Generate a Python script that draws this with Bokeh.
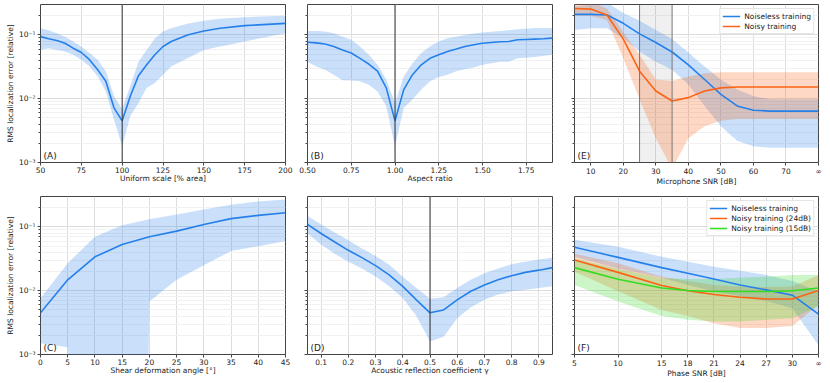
from bokeh.plotting import figure
from bokeh.models import (FixedTicker, CustomJSTickFormatter, NumeralTickFormatter,
                          Span, BoxAnnotation, Label, Range1d)
from bokeh.layouts import row, column
from bokeh.embed import file_html
from bokeh.resources import INLINE

FONT = "DejaVu Sans"
BLUE = "#2680eb"
ORANGE = "#fa6414"
GREEN = "#33dd22"

# ---------------- data ----------------
# (A) uniform scale
xA = [50, 55, 60, 65, 70, 75, 80, 85, 90, 95, 100, 105, 110, 115, 120, 125, 130, 140, 150, 160, 175, 200]
meanA = [0.094, 0.087, 0.082, 0.074, 0.062, 0.053, 0.041, 0.0285, 0.0188, 0.0072, 0.0045, 0.011,
         0.023, 0.034, 0.049, 0.066, 0.079, 0.100, 0.115, 0.127, 0.140, 0.152]
upA = [0.127, 0.118, 0.106, 0.094, 0.079, 0.065, 0.052, 0.041, 0.027, 0.011, 0.0069, 0.016,
       0.038, 0.058, 0.088, 0.113, 0.127, 0.150, 0.167, 0.180, 0.190, 0.200]
loA = [0.058, 0.062, 0.058, 0.055, 0.049, 0.041, 0.032, 0.0224, 0.013, 0.0047, 0.0018, 0.0054,
       0.0086, 0.0148, 0.0177, 0.0238, 0.032, 0.043, 0.058, 0.066, 0.079, 0.106]

# (B) aspect ratio
xB = [0.50, 0.55, 0.60, 0.65, 0.70, 0.75, 0.80, 0.85, 0.90, 0.95, 1.00, 1.05, 1.10, 1.15, 1.20,
      1.25, 1.30, 1.35, 1.40, 1.45, 1.50, 1.55, 1.60, 1.65, 1.70, 1.75, 1.80, 1.85, 1.90]
meanB = [0.077, 0.075, 0.072, 0.066, 0.058, 0.052, 0.043, 0.035, 0.027, 0.0148, 0.0045, 0.0139,
         0.0238, 0.034, 0.043, 0.049, 0.055, 0.060, 0.066, 0.070, 0.074, 0.076, 0.078, 0.079,
         0.084, 0.085, 0.086, 0.087, 0.089]
upB = [0.115, 0.115, 0.113, 0.106, 0.094, 0.084, 0.066, 0.049, 0.034, 0.020, 0.0086, 0.0224,
       0.036, 0.052, 0.066, 0.079, 0.089, 0.094, 0.100, 0.105, 0.109, 0.112, 0.115, 0.118,
       0.123, 0.125, 0.128, 0.128, 0.127]
loB = [0.038, 0.032, 0.0285, 0.0238, 0.0194, 0.0193, 0.0188, 0.0166, 0.013, 0.0076, 0.0018,
       0.0072, 0.0097, 0.0139, 0.0188, 0.022, 0.0238, 0.027, 0.029, 0.031, 0.034, 0.036, 0.038,
       0.038, 0.043, 0.044, 0.045, 0.047, 0.049]

# (E) microphone SNR (80 = infinity)
xE = [5, 10, 15, 20, 25, 30, 35, 40, 45, 50, 55, 60, 65, 70, 75, 80]
meanE_nl = [0.21, 0.21, 0.205, 0.152, 0.104, 0.076, 0.054, 0.034, 0.020, 0.0117, 0.0077, 0.0066,
            0.0064, 0.0064, 0.0064, 0.0064]
upE_nl = [0.28, 0.30, 0.32, 0.22, 0.167, 0.12, 0.086, 0.053, 0.032, 0.020, 0.014, 0.011,
          0.0098, 0.0098, 0.0098, 0.0098]
loE_nl = [0.12, 0.127, 0.127, 0.089, 0.055, 0.038, 0.0285, 0.0167, 0.0077, 0.0037, 0.0022,
          0.0018, 0.0017, 0.0017, 0.0017, 0.0017]
meanE_ny = [0.26, 0.254, 0.205, 0.086, 0.027, 0.0132, 0.0092, 0.0104, 0.0132, 0.0148, 0.0153,
            0.0153, 0.0153, 0.0153, 0.0153, 0.0153]
upE_ny = [0.33, 0.33, 0.26, 0.11, 0.049, 0.020, 0.019, 0.0224, 0.025, 0.026, 0.026, 0.026,
          0.026, 0.026, 0.026, 0.026]
loE_ny = [0.20, 0.20, 0.17, 0.043, 0.0098, 0.0024, 0.0008, 0.0024, 0.0037, 0.0045, 0.0048,
          0.0048, 0.0048, 0.0048, 0.0048, 0.0048]

# (C) shear deformation angle (1e-30 = clipped below axis)
xC = [0, 5, 10, 15, 20, 25, 30, 35, 40, 45]
meanC = [0.0045, 0.0148, 0.034, 0.053, 0.070, 0.086, 0.109, 0.135, 0.152, 0.167]
upC = [0.0076, 0.027, 0.070, 0.106, 0.132, 0.156, 0.188, 0.223, 0.250, 0.270]
loC = [0.0015, 0.0013, 1e-30, 1e-30, 0.0068, 0.0148, 0.025, 0.042, 0.050, 0.060]

# (D) acoustic reflection coefficient
xD = [0.05, 0.10, 0.15, 0.20, 0.25, 0.30, 0.35, 0.40, 0.45, 0.50, 0.55, 0.60, 0.65, 0.70,
      0.75, 0.80, 0.85, 0.90, 0.95]
meanD = [0.110, 0.079, 0.058, 0.043, 0.033, 0.0247, 0.0177, 0.0117, 0.0072, 0.0045, 0.0050,
         0.0072, 0.0098, 0.0123, 0.0148, 0.0172, 0.0194, 0.021, 0.023]
upD = [0.148, 0.109, 0.082, 0.062, 0.046, 0.035, 0.0255, 0.0166, 0.011, 0.0075, 0.0079, 0.011,
       0.0148, 0.0188, 0.0224, 0.026, 0.0285, 0.031, 0.033]
loD = [0.079, 0.053, 0.038, 0.0285, 0.0224, 0.0167, 0.0117, 0.0077, 0.0040, 0.0016, 0.0019,
       0.0037, 0.0055, 0.0072, 0.0087, 0.0098, 0.0104, 0.011, 0.0117]

# (F) phase SNR (33 = infinity)
xF = [5, 10, 15, 18, 21, 24, 27, 30, 33]
meanF_nl = [0.048, 0.0333, 0.023, 0.0188, 0.0153, 0.0123, 0.0103, 0.0085, 0.0043]
upF_nl = [0.063, 0.049, 0.034, 0.0285, 0.0238, 0.0205, 0.0177, 0.0142, 0.0097]
loF_nl = [0.034, 0.0224, 0.016, 0.0123, 0.0098, 0.0082, 0.0069, 0.0053, 0.0014]
meanF_24 = [0.0303, 0.0194, 0.0121, 0.0100, 0.0087, 0.0079, 0.0074, 0.0074, 0.0101]
upF_24 = [0.038, 0.027, 0.0166, 0.0142, 0.0123, 0.0116, 0.0114, 0.0116, 0.0177]
loF_24 = [0.0199, 0.0098, 0.0050, 0.0040, 0.0031, 0.0026, 0.0026, 0.0028, 0.0060]
meanF_15 = [0.023, 0.0151, 0.011, 0.0101, 0.0097, 0.0097, 0.0097, 0.0100, 0.011]
upF_15 = [0.032, 0.0219, 0.0157, 0.0153, 0.0153, 0.016, 0.0166, 0.0177, 0.0177]
loF_15 = [0.0123, 0.0068, 0.0040, 0.0035, 0.0033, 0.0033, 0.0035, 0.0037, 0.0057]

Y_MAJOR = [1e-3, 1e-2, 1e-1]
Y_MINOR = [k * 10.0 ** e for e in (-3, -2, -1) for k in range(2, 10) if k * 10.0 ** e < 0.3]
Y_RANGE = (1e-3, 0.3)

FW_L, FW_M, FW_R = 245, 245, 244
FH = 158

SUP_FMT = CustomJSTickFormatter(code="""
const e = Math.round(Math.log10(tick));
const sup = {'-': '\u207b', '0': '\u2070', '1': '\u00b9', '2': '\u00b2', '3': '\u00b3',
             '4': '\u2074', '5': '\u2075'};
return '10' + String(e).split('').map(c => sup[c]).join('');
""")
BLANK_FMT = CustomJSTickFormatter(code="return '';")


def make_fig(xr, xticks, xlabel, letter, col, top):
    fw = {0: FW_L, 1: FW_M, 2: FW_R}[col]
    bl = {0: 40, 1: 12, 2: 12}[col]
    br = {0: 10, 1: 10, 2: 6}[col]
    bt, bb = (4, 28) if top else (6, 24)
    p = figure(frame_width=fw, frame_height=FH, x_range=Range1d(*xr),
               y_range=Range1d(*Y_RANGE), y_axis_type="log",
               output_backend="svg", toolbar_location=None,
               min_border_left=bl, min_border_right=br,
               min_border_top=bt, min_border_bottom=bb)
    p.background_fill_color = "white"
    p.border_fill_color = "white"
    p.outline_line_color = "#444444"
    p.outline_line_width = 1

    xt = FixedTicker(ticks=xticks)
    yt = FixedTicker(ticks=Y_MAJOR, minor_ticks=Y_MINOR)
    p.xaxis.ticker = xt
    p.xgrid.ticker = xt
    p.yaxis.ticker = yt
    p.ygrid.ticker = yt
    p.xgrid.grid_line_color = "#dddddd"
    p.ygrid.grid_line_color = "#dddddd"
    p.ygrid.minor_grid_line_color = "#f1f1f1"

    for ax in p.axis:
        ax.axis_line_color = None
        ax.major_tick_line_color = "#444444"
        ax.major_tick_out = 3
        ax.major_tick_in = 0
        ax.minor_tick_line_color = "#444444"
        ax.minor_tick_out = 2
        ax.minor_tick_in = 0
        ax.major_label_text_font = FONT
        ax.major_label_text_font_size = "7.5px"
        ax.major_label_text_color = "#222222"
        ax.major_label_standoff = 1
        ax.axis_label_text_font = FONT
        ax.axis_label_text_font_size = "7.5px"
        ax.axis_label_text_font_style = "normal"
        ax.axis_label_text_color = "#222222"
        ax.axis_label_standoff = -2
    p.yaxis.major_label_standoff = 2
    p.yaxis.axis_label_standoff = 1
    p.xaxis.minor_tick_line_color = None
    p.xaxis.axis_label = xlabel
    if col == 0:
        p.yaxis.formatter = SUP_FMT
        p.yaxis.axis_label = "RMS localization error [relative]"
    else:
        p.yaxis.formatter = BLANK_FMT

    p.add_layout(Label(x=xr[0], y=Y_RANGE[0], x_offset=3, y_offset=2, text=letter,
                       text_font=FONT, text_font_size="9px", text_color="#222222",
                       text_baseline="bottom"))
    return p


def inf_fmt(inf):
    return CustomJSTickFormatter(code=f"return tick >= {inf} ? '\u221e' : tick.toFixed(0);")


# (A)
pA = make_fig((50, 200), [50, 75, 100, 125, 150, 175, 200], "Uniform scale [% area]", "(A)", 0, True)
pA.add_layout(Span(location=100, dimension="height", line_color="#333333", line_width=1))
pA.varea(x=xA, y1=loA, y2=upA, fill_color=BLUE, fill_alpha=0.25)
pA.line(xA, meanA, line_color=BLUE, line_width=1.6)

# (B)
pB = make_fig((0.5, 1.9), [0.5, 0.75, 1.0, 1.25, 1.5, 1.75], "Aspect ratio", "(B)", 1, True)
pB.xaxis.formatter = NumeralTickFormatter(format="0.00")
pB.add_layout(Span(location=1.0, dimension="height", line_color="#333333", line_width=1))
pB.varea(x=xB, y1=loB, y2=upB, fill_color=BLUE, fill_alpha=0.25)
pB.line(xB, meanB, line_color=BLUE, line_width=1.6)

# (E)
pE = make_fig((5, 80), [10, 20, 30, 40, 50, 60, 70, 80], "Microphone SNR [dB]", "(E)", 2, True)
pE.xaxis.formatter = inf_fmt(80)
pE.add_layout(BoxAnnotation(left=25, right=35, fill_color="#000000", fill_alpha=0.06,
                            line_color=None, level="underlay"))
for loc in (25, 35):
    pE.add_layout(Span(location=loc, dimension="height", line_color="#777777", line_width=1))
pE.varea(x=xE, y1=loE_nl, y2=upE_nl, fill_color=BLUE, fill_alpha=0.25)
pE.varea(x=xE, y1=loE_ny, y2=upE_ny, fill_color=ORANGE, fill_alpha=0.25)
pE.line(xE, meanE_nl, line_color=BLUE, line_width=1.6, legend_label="Noiseless training")
pE.line(xE, meanE_ny, line_color=ORANGE, line_width=1.6, legend_label="Noisy training")

# (C)
pC = make_fig((0, 45), list(range(0, 50, 5)), "Shear deformation angle [\u00b0]", "(C)", 0, False)
pC.varea(x=xC, y1=loC, y2=upC, fill_color=BLUE, fill_alpha=0.25)
pC.line(xC, meanC, line_color=BLUE, line_width=1.6)

# (D)
pD = make_fig((0.05, 0.95), [0.1, 0.2, 0.3, 0.4, 0.5, 0.6, 0.7, 0.8, 0.9],
              "Acoustic reflection coefficient \u03b3", "(D)", 1, False)
pD.xaxis.formatter = NumeralTickFormatter(format="0.0")
pD.add_layout(Span(location=0.5, dimension="height", line_color="#333333", line_width=1))
pD.varea(x=xD, y1=loD, y2=upD, fill_color=BLUE, fill_alpha=0.25)
pD.line(xD, meanD, line_color=BLUE, line_width=1.6)

# (F)
pF = make_fig((5, 33), [5, 10, 15, 18, 21, 24, 27, 30, 33], "Phase SNR [dB]", "(F)", 2, False)
pF.xaxis.formatter = inf_fmt(33)
pF.varea(x=xF, y1=loF_nl, y2=upF_nl, fill_color=BLUE, fill_alpha=0.25)
pF.varea(x=xF, y1=loF_24, y2=upF_24, fill_color=ORANGE, fill_alpha=0.25)
pF.varea(x=xF, y1=loF_15, y2=upF_15, fill_color=GREEN, fill_alpha=0.25)
pF.line(xF, meanF_nl, line_color=BLUE, line_width=1.6, legend_label="Noiseless training")
pF.line(xF, meanF_24, line_color=ORANGE, line_width=1.6, legend_label="Noisy training (24dB)")
pF.line(xF, meanF_15, line_color=GREEN, line_width=1.6, legend_label="Noisy training (15dB)")

for p in (pE, pF):
    lg = p.legend[0]
    lg.location = "top_right"
    lg.label_text_font = FONT
    lg.label_text_font_size = "7.5px"
    lg.label_text_color = "#222222"
    lg.label_height = 10
    lg.glyph_height = 10
    lg.glyph_width = 18
    lg.label_standoff = 4
    lg.spacing = 0
    lg.padding = 2
    lg.margin = 4
    lg.border_line_color = "#cccccc"
    lg.background_fill_alpha = 0.85

layout = column(row(pA, pB, pE), row(pC, pD, pF))
open("out.html", "w").write(file_html(layout, INLINE))
